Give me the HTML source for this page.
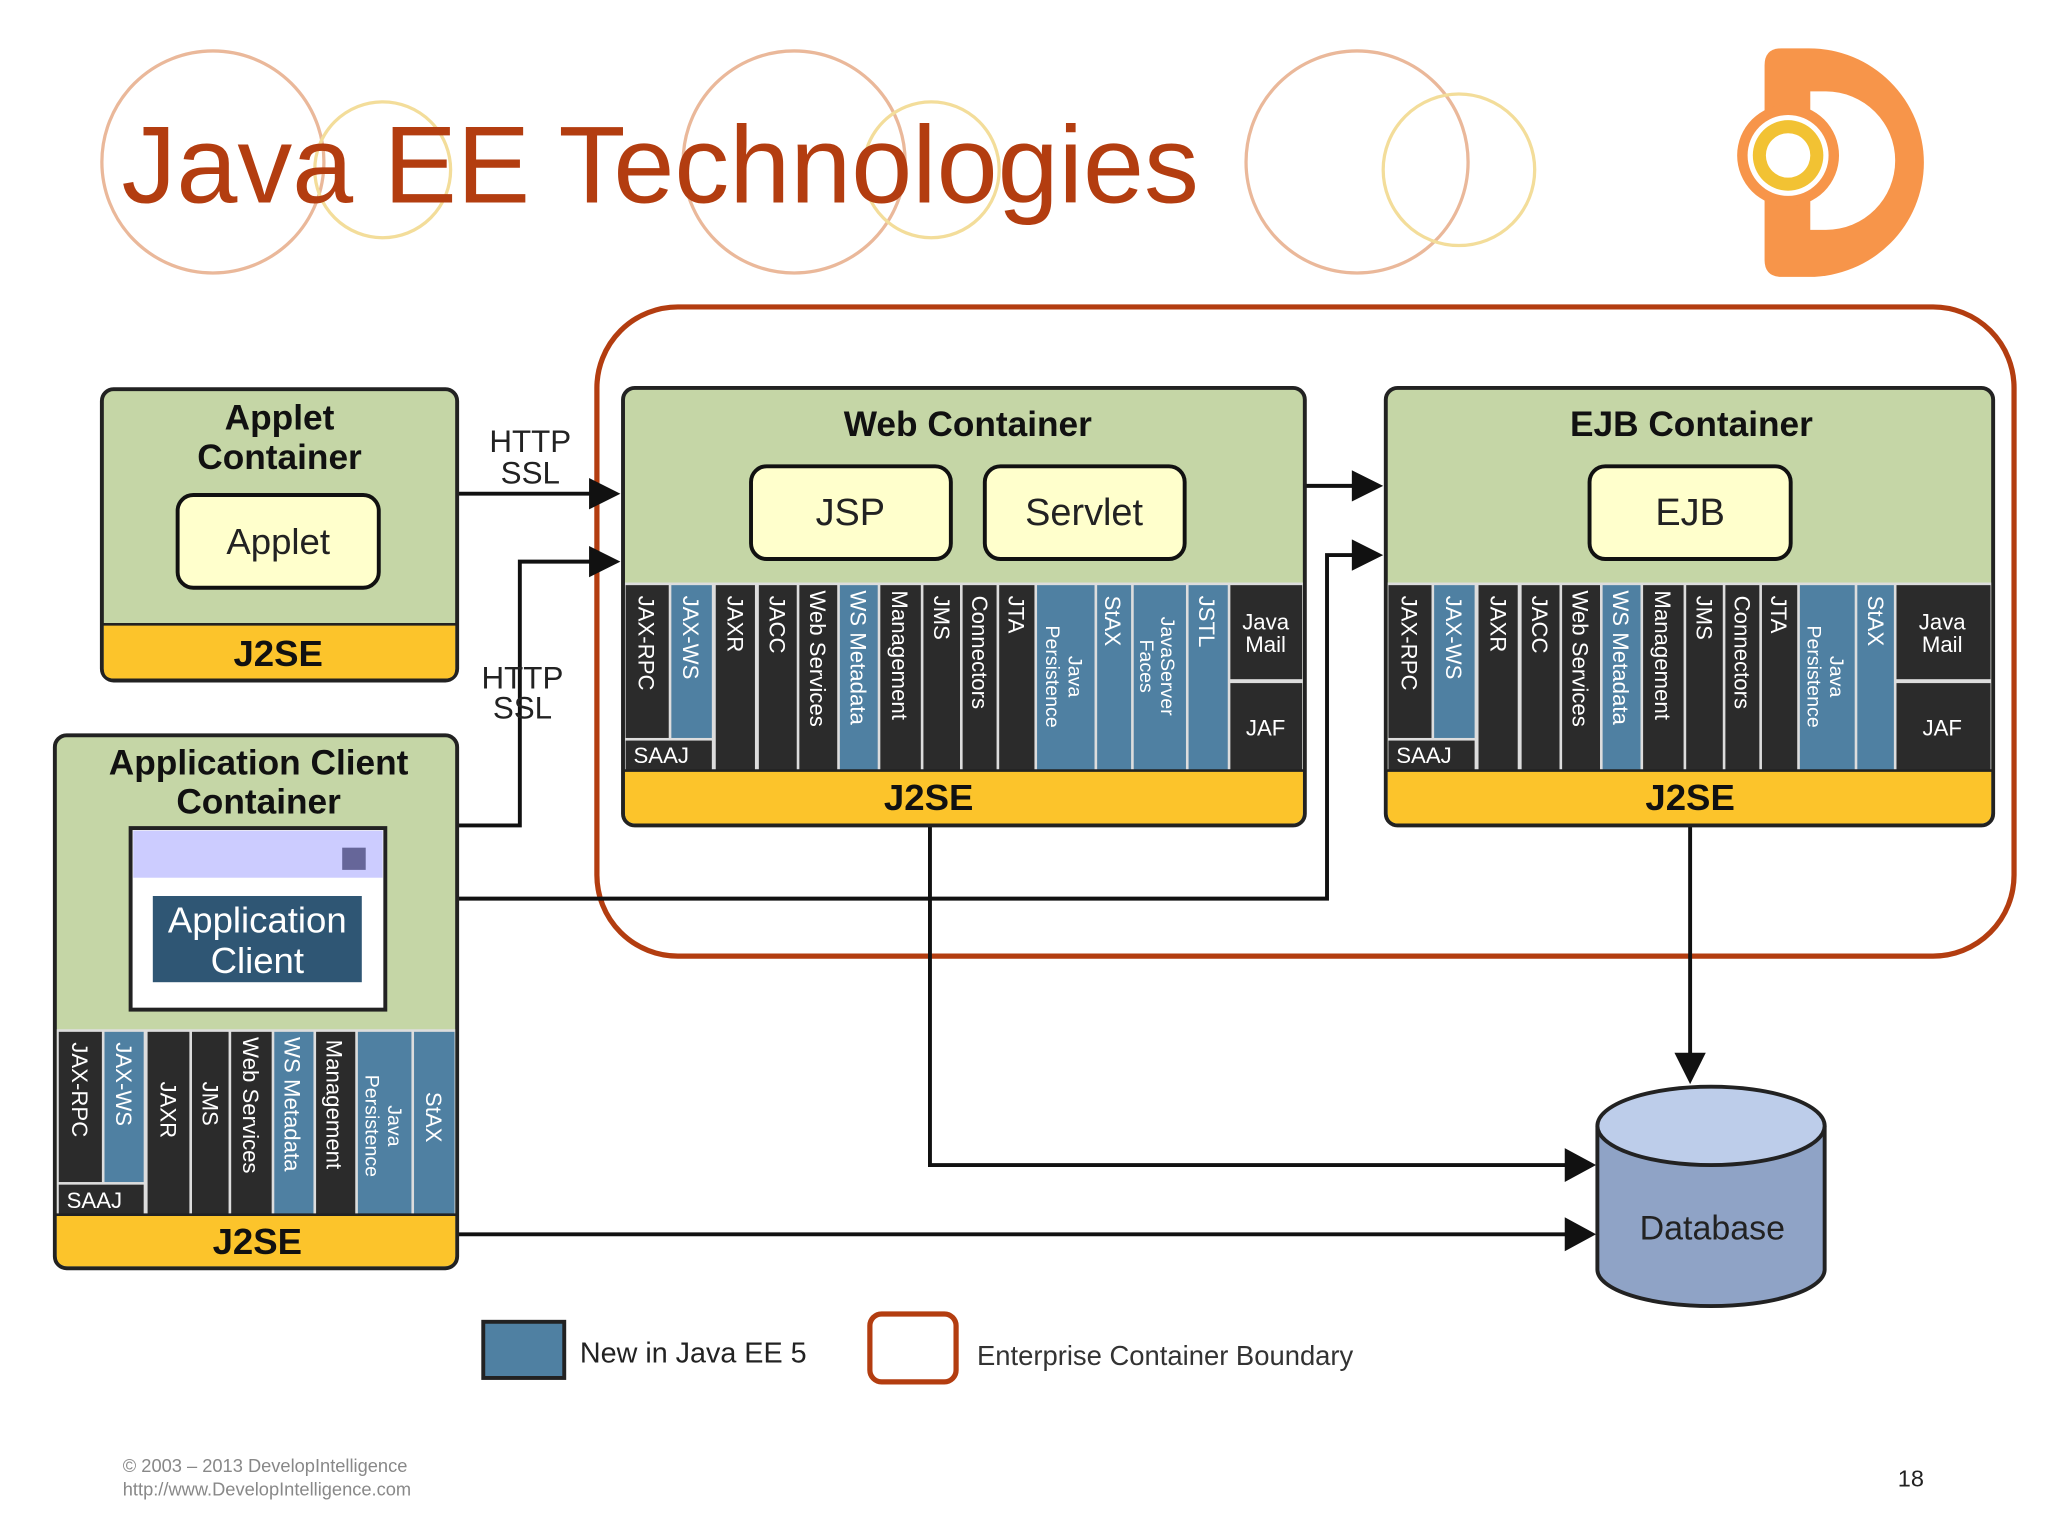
<!DOCTYPE html>
<html><head><meta charset="utf-8"><style>
html,body{margin:0;padding:0;background:#fff;}
svg{display:block;}
text{font-family:"Liberation Sans",sans-serif;}
.col{font-size:17px;fill:#fff;}
.hd{font-size:27px;font-weight:bold;fill:#111;}
</style></head><body>
<svg width="2048" height="1536" viewBox="0 0 1568 1176" xmlns="http://www.w3.org/2000/svg">
<rect width="1568" height="1176" fill="#fff"/>
<g fill="none" stroke-width="2.5">
<circle cx="163" cy="124" r="85" stroke="#eab89a"/>
<circle cx="293" cy="130" r="52" stroke="#f3dd9a"/>
<circle cx="608" cy="124" r="85" stroke="#eab89a"/>
<circle cx="713" cy="130" r="52" stroke="#f3dd9a"/>
<circle cx="1039" cy="124" r="85" stroke="#eab89a"/>
<circle cx="1117" cy="130" r="58" stroke="#f3dd9a"/>
</g>
<text x="93" y="155" font-size="84" fill="#b33d10">Java EE Technologies</text>
<path d="M1351,50 q0,-13 13,-13 H1385 A88,87.5 0 0 1 1385,212 H1364 q-13,0 -13,-13 Z" fill="#f7954a"/>
<path d="M1386,70 H1398 A53,53 0 0 1 1398,176 H1386 Z" fill="#fff"/>
<circle cx="1369" cy="119" r="39" fill="#f7954a"/>
<circle cx="1369" cy="119" r="31" fill="#fff"/>
<circle cx="1369" cy="119" r="27" fill="#f2c233"/>
<circle cx="1369" cy="119" r="17" fill="#fff"/>

<rect x="457" y="235" width="1085" height="497" rx="62" fill="none" stroke="#b33d10" stroke-width="4"/>

<g stroke="#111" stroke-width="3" fill="none">
<path d="M350,378 H462"/>
<path d="M350,632 H398 V430 H462"/>
<path d="M999,372 H1046"/>
<path d="M350,688 H1016 V425 H1046"/>
<path d="M712,632 V892 H1208"/>
<path d="M1294,632 V815"/>
<path d="M350,945 H1208"/>
</g>
<g fill="#111">
<path d="M451,366 L475,378 L451,390 Z"/>
<path d="M451,418 L475,430 L451,442 Z"/>
<path d="M1035,360 L1059,372 L1035,384 Z"/>
<path d="M1035,413 L1059,425 L1035,437 Z"/>
<path d="M1198,879 L1222,892 L1198,905 Z"/>
<path d="M1198,932 L1222,945 L1198,958 Z"/>
<path d="M1282,806 L1294,830 L1306,806 Z"/>
</g>
<g font-size="24" fill="#222" text-anchor="middle">
<text x="406" y="346">HTTP</text><text x="406" y="370">SSL</text>
<text x="400" y="527">HTTP</text><text x="400" y="550">SSL</text>
</g>

<rect x="78" y="298" width="272" height="223" rx="9" fill="#c5d6a6" stroke="#222" stroke-width="3"/>
<path d="M79.5,478 H348.5 V512 q0,7.5 -7.5,7.5 H87 q-7.5,0 -7.5,-7.5 Z" fill="#fcc42b"/>
<line x1="79" y1="478" x2="349" y2="478" stroke="#222" stroke-width="2"/>
<text class="hd" x="214" y="329" text-anchor="middle">Applet</text>
<text class="hd" x="214" y="359" text-anchor="middle">Container</text>
<rect x="136" y="379" width="154" height="71" rx="12" fill="#ffffcc" stroke="#111" stroke-width="3"/>
<text x="213" y="424" font-size="28" text-anchor="middle" fill="#222">Applet</text>
<text x="213" y="510" font-size="28" font-weight="bold" text-anchor="middle" fill="#111">J2SE</text>

<rect x="477" y="297" width="522" height="335" rx="9" fill="#c5d6a6" stroke="#222" stroke-width="3"/>
<text class="hd" x="741" y="334" text-anchor="middle">Web Container</text>
<rect x="575" y="357" width="153" height="71" rx="12" fill="#ffffcc" stroke="#111" stroke-width="3"/>
<text x="651" y="402" font-size="29" text-anchor="middle" fill="#222">JSP</text>
<rect x="754" y="357" width="153" height="71" rx="12" fill="#ffffcc" stroke="#111" stroke-width="3"/>
<text x="830" y="402" font-size="29" text-anchor="middle" fill="#222">Servlet</text>
<rect x="478.5" y="446" width="519" height="144" fill="#ddd"/>
<g fill="#2b2b2b">
<rect x="479" y="448" width="33" height="117"/>
<rect x="479" y="567" width="66" height="23"/>
<rect x="548" y="448" width="30" height="142"/>
<rect x="581" y="448" width="29" height="142"/>
<rect x="612" y="448" width="29" height="142"/>
<rect x="674" y="448" width="31" height="142"/>
<rect x="707" y="448" width="28" height="142"/>
<rect x="737" y="448" width="26" height="142"/>
<rect x="765" y="448" width="27" height="142"/>
<rect x="942" y="448" width="55" height="72"/>
<rect x="942" y="523" width="55" height="67"/>
</g>
<g fill="#4f80a2">
<rect x="514" y="448" width="31" height="117"/>
<rect x="643" y="448" width="29" height="142"/>
<rect x="794" y="448" width="44" height="142"/>
<rect x="840" y="448" width="26" height="142"/>
<rect x="868" y="448" width="40" height="142"/>
<rect x="910" y="448" width="30" height="142"/>
</g>
<g class="col">
<text transform="translate(489,456) rotate(90)">JAX-RPC</text>
<text transform="translate(523,456) rotate(90)">JAX-WS</text>
<text transform="translate(557,456) rotate(90)">JAXR</text>
<text transform="translate(589,456) rotate(90)">JACC</text>
<text transform="translate(620,452) rotate(90)">Web Services</text>
<text transform="translate(651,452) rotate(90)">WS Metadata</text>
<text transform="translate(683,452) rotate(90)">Management</text>
<text transform="translate(715,456) rotate(90)">JMS</text>
<text transform="translate(744,456) rotate(90)">Connectors</text>
<text transform="translate(772,456) rotate(90)">JTA</text>
<text transform="translate(818,518) rotate(90)" font-size="15" text-anchor="middle">Java</text>
<text transform="translate(801,518) rotate(90)" font-size="15" text-anchor="middle">Persistence</text>
<text transform="translate(846,456) rotate(90)">StAX</text>
<text transform="translate(889,510) rotate(90)" font-size="15" text-anchor="middle">JavaServer</text>
<text transform="translate(873,510) rotate(90)" font-size="15" text-anchor="middle">Faces</text>
<text transform="translate(918,456) rotate(90)">JSTL</text>
<text x="485" y="584" font-size="17">SAAJ</text>
<text x="969" y="482" text-anchor="middle" font-size="17">Java</text>
<text x="969" y="499" text-anchor="middle" font-size="17">Mail</text>
<text x="969" y="563" text-anchor="middle" font-size="17">JAF</text>
</g>
<path d="M478.5,590 H997.5 V622 q0,8.5 -8.5,8.5 H487 q-8.5,0 -8.5,-8.5 Z" fill="#fcc42b"/>
<line x1="478" y1="590" x2="998" y2="590" stroke="#222" stroke-width="2"/>
<text x="711" y="620" font-size="28" font-weight="bold" text-anchor="middle" fill="#111">J2SE</text>

<rect x="1061" y="297" width="465" height="335" rx="9" fill="#c5d6a6" stroke="#222" stroke-width="3"/>
<text class="hd" x="1295" y="334" text-anchor="middle">EJB Container</text>
<rect x="1217" y="357" width="154" height="71" rx="12" fill="#ffffcc" stroke="#111" stroke-width="3"/>
<text x="1294" y="402" font-size="29" text-anchor="middle" fill="#222">EJB</text>
<rect x="1062.5" y="446" width="462" height="144" fill="#ddd"/>
<g fill="#2b2b2b">
<rect x="1063" y="448" width="33" height="117"/>
<rect x="1063" y="567" width="66" height="23"/>
<rect x="1132" y="448" width="30" height="142"/>
<rect x="1165" y="448" width="29" height="142"/>
<rect x="1196" y="448" width="29" height="142"/>
<rect x="1258" y="448" width="31" height="142"/>
<rect x="1291" y="448" width="28" height="142"/>
<rect x="1321" y="448" width="26" height="142"/>
<rect x="1349" y="448" width="27" height="142"/>
<rect x="1452" y="448" width="72" height="72"/>
<rect x="1452" y="523" width="72" height="67"/>
</g>
<g fill="#4f80a2">
<rect x="1098" y="448" width="31" height="117"/>
<rect x="1227" y="448" width="29" height="142"/>
<rect x="1378" y="448" width="42" height="142"/>
<rect x="1422" y="448" width="28" height="142"/>
</g>
<g class="col">
<text transform="translate(1073,456) rotate(90)">JAX-RPC</text>
<text transform="translate(1107,456) rotate(90)">JAX-WS</text>
<text transform="translate(1141,456) rotate(90)">JAXR</text>
<text transform="translate(1173,456) rotate(90)">JACC</text>
<text transform="translate(1204,452) rotate(90)">Web Services</text>
<text transform="translate(1235,452) rotate(90)">WS Metadata</text>
<text transform="translate(1267,452) rotate(90)">Management</text>
<text transform="translate(1299,456) rotate(90)">JMS</text>
<text transform="translate(1328,456) rotate(90)">Connectors</text>
<text transform="translate(1356,456) rotate(90)">JTA</text>
<text transform="translate(1401,518) rotate(90)" font-size="15" text-anchor="middle">Java</text>
<text transform="translate(1384,518) rotate(90)" font-size="15" text-anchor="middle">Persistence</text>
<text transform="translate(1430,456) rotate(90)">StAX</text>
<text x="1069" y="584" font-size="17">SAAJ</text>
<text x="1487" y="482" text-anchor="middle" font-size="17">Java</text>
<text x="1487" y="499" text-anchor="middle" font-size="17">Mail</text>
<text x="1487" y="563" text-anchor="middle" font-size="17">JAF</text>
</g>
<path d="M1062.5,590 H1524.5 V622 q0,8.5 -8.5,8.5 H1071 q-8.5,0 -8.5,-8.5 Z" fill="#fcc42b"/>
<line x1="1062" y1="590" x2="1525" y2="590" stroke="#222" stroke-width="2"/>
<text x="1294" y="620" font-size="28" font-weight="bold" text-anchor="middle" fill="#111">J2SE</text>

<rect x="42" y="563" width="308" height="408" rx="9" fill="#c5d6a6" stroke="#222" stroke-width="3"/>
<text class="hd" x="198" y="593" text-anchor="middle">Application Client</text>
<text class="hd" x="198" y="623" text-anchor="middle">Container</text>
<rect x="100" y="634" width="195" height="139" fill="#fff" stroke="#222" stroke-width="3"/>
<rect x="102" y="636" width="191" height="36" fill="#ccccff"/>
<rect x="262" y="649" width="18" height="17" fill="#666699"/>
<rect x="117" y="686" width="160" height="66" fill="#2f5674"/>
<text x="197" y="714" font-size="28" text-anchor="middle" fill="#fff">Application</text>
<text x="197" y="745" font-size="28" text-anchor="middle" fill="#fff">Client</text>
<rect x="43.5" y="788" width="305" height="142" fill="#ddd"/>
<g fill="#2b2b2b">
<rect x="45" y="790" width="33" height="115"/>
<rect x="45" y="907" width="65" height="23"/>
<rect x="113" y="790" width="32" height="140"/>
<rect x="147" y="790" width="28" height="140"/>
<rect x="177" y="790" width="31" height="140"/>
<rect x="242" y="790" width="30" height="140"/>
</g>
<g fill="#4f80a2">
<rect x="80" y="790" width="30" height="115"/>
<rect x="210" y="790" width="30" height="140"/>
<rect x="274" y="790" width="41" height="140"/>
<rect x="317" y="790" width="31" height="140"/>
</g>
<g class="col">
<text transform="translate(55,798) rotate(90)">JAX-RPC</text>
<text transform="translate(89,798) rotate(90)">JAX-WS</text>
<text transform="translate(123,828) rotate(90)">JAXR</text>
<text transform="translate(155,828) rotate(90)">JMS</text>
<text transform="translate(186,794) rotate(90)">Web Services</text>
<text transform="translate(218,794) rotate(90)">WS Metadata</text>
<text transform="translate(250,796) rotate(90)">Management</text>
<text transform="translate(297,862) rotate(90)" font-size="15" text-anchor="middle">Java</text>
<text transform="translate(280,862) rotate(90)" font-size="15" text-anchor="middle">Persistence</text>
<text transform="translate(326,836) rotate(90)">StAX</text>
<text x="51" y="925" font-size="17">SAAJ</text>
</g>
<path d="M43.5,930 H348.5 V961 q0,8.5 -8.5,8.5 H52 q-8.5,0 -8.5,-8.5 Z" fill="#fcc42b"/>
<line x1="43" y1="930" x2="349" y2="930" stroke="#222" stroke-width="2"/>
<text x="197" y="960" font-size="28" font-weight="bold" text-anchor="middle" fill="#111">J2SE</text>

<path d="M1223,862 V972 A87,28 0 0 0 1397,972 V862" fill="#8fa3c6" stroke="#222" stroke-width="3"/>
<ellipse cx="1310" cy="862" rx="87" ry="30" fill="#bdcdea" stroke="#222" stroke-width="3"/>
<text x="1311" y="949" font-size="26" text-anchor="middle" fill="#222">Database</text>

<rect x="370" y="1012" width="62" height="43" fill="#4f80a2" stroke="#222" stroke-width="3"/>
<text x="444" y="1043" font-size="22" fill="#222">New in Java EE 5</text>
<rect x="666" y="1006" width="66" height="52" rx="9" fill="#fff" stroke="#b33d10" stroke-width="4"/>
<text x="748" y="1045" font-size="21" fill="#333">Enterprise Container Boundary</text>

<text x="94" y="1127" font-size="14" fill="#888">© 2003 – 2013 DevelopIntelligence</text>
<text x="94" y="1145" font-size="14" fill="#888">http://www.DevelopIntelligence.com</text>
<text x="1463" y="1138" font-size="18" fill="#222" text-anchor="middle">18</text>
</svg>
</body></html>
